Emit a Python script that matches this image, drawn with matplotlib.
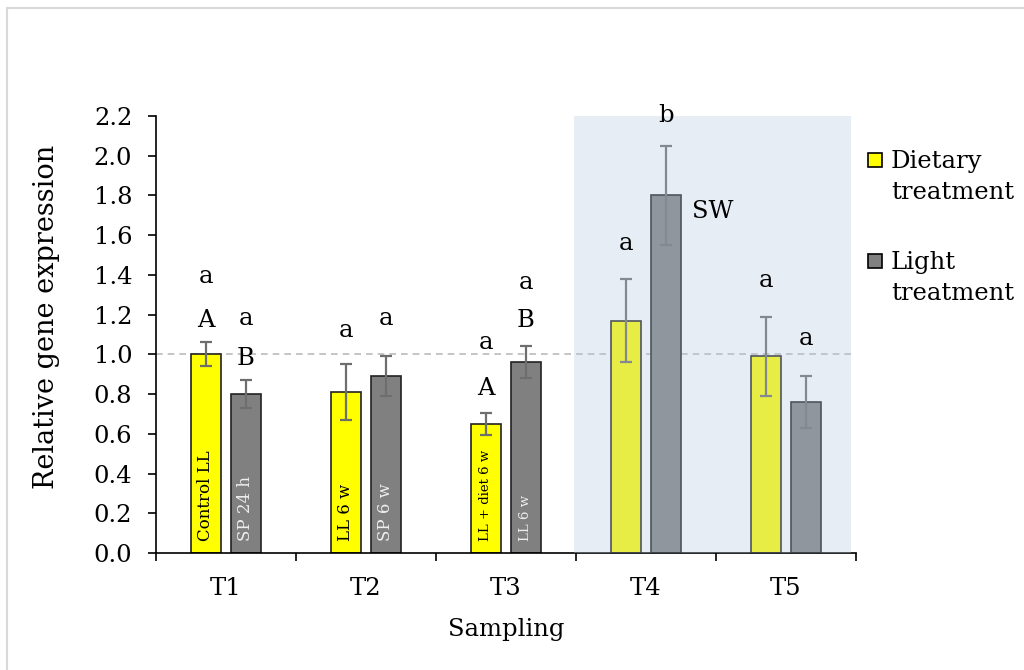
import matplotlib
matplotlib.use("Agg")
import matplotlib.pyplot as plt
import matplotlib.ticker as mticker
from matplotlib.patches import Rectangle
from matplotlib.lines import Line2D
import numpy as np

# ── data ────────────────────────────────────────────────────────────────
samplings = ["T1", "T2", "T3", "T4", "T5"]
diet_mean = [1.00, 0.81, 0.65, 1.17, 0.99]
diet_err = [0.06, 0.14, 0.055, 0.21, 0.20]
light_mean = [0.80, 0.89, 0.96, 1.80, 0.76]
light_err = [0.07, 0.10, 0.08, 0.25, 0.13]

diet_inside = ["Control LL", "LL 6 w", "LL + diet 6 w", "", ""]
light_inside = ["SP 24 h", "SP 6 w", "LL 6 w", "", ""]
inside_size = [12, 12, 9.5, 12, 12]

# significance letters: (group index, text, y)
letters_diet = [(0, "a", 1.39), (0, "A", 1.17), (1, "a", 1.12),
                (2, "a", 1.06), (2, "A", 0.83), (3, "a", 1.56), (4, "a", 1.37)]
letters_light = [(0, "a", 1.18), (0, "B", 0.98), (1, "a", 1.18),
                 (2, "a", 1.36), (2, "B", 1.17), (3, "b", 2.20), (4, "a", 1.08)]

seawater_span = (2.486, 4.464)   # T4-T5 sampled in seawater

YELLOW = "#FFFF00"
GREY = "#808080"
ERR = "#6E6E6E"
FONT = "DejaVu Serif"
FS = 17.5

plt.rcParams["font.family"] = FONT

fig = plt.figure(figsize=(10.24, 6.70), dpi=100)
ax = fig.add_axes([0.1523, 0.1746, 0.6836, 0.6523])

x = np.arange(len(samplings))
off, w = 0.143, 0.22
ax.bar(x - off, diet_mean, w, color=YELLOW, edgecolor="#222222", linewidth=1.2, zorder=2)
ax.bar(x + off, light_mean, w, color=GREY, edgecolor="#222222", linewidth=1.2, zorder=2)
ax.errorbar(x - off, diet_mean, yerr=diet_err, fmt="none", ecolor=ERR,
            elinewidth=1.6, capsize=4, capthick=1.6, zorder=2.2)
ax.errorbar(x + off, light_mean, yerr=light_err, fmt="none", ecolor=ERR,
            elinewidth=1.6, capsize=4, capthick=1.6, zorder=2.2)

# reference level
ax.axhline(1.0, color="#BBBBBB", linestyle=(0, (4, 3)), linewidth=1.2, zorder=1)

# seawater phase shading drawn over the bars
ax.axvspan(*seawater_span, ymin=0, ymax=1, color=(180 / 255, 200 / 255, 225 / 255),
           alpha=0.31, linewidth=0, zorder=3)

# labels inside bars
for i in range(len(samplings)):
    if diet_inside[i]:
        ax.text(x[i] - off, 0.06, diet_inside[i], rotation=90, ha="center",
                va="bottom", fontsize=inside_size[i], color="black", zorder=4)
    if light_inside[i]:
        ax.text(x[i] + off, 0.06, light_inside[i], rotation=90, ha="center",
                va="bottom", fontsize=inside_size[i], color="#EEEEEE", zorder=4)

for i, s, yv in letters_diet:
    ax.text(x[i] - off, yv, s, ha="center", va="center", fontsize=FS, zorder=4)
for i, s, yv in letters_light:
    ax.text(x[i] + off, yv, s, ha="center", va="center", fontsize=FS, zorder=4)
ax.text(3 + 0.48, 1.72, "SW", ha="center", va="center", fontsize=FS, zorder=4)

# axes
ax.set_xlim(-0.5, 4.5)
ax.set_ylim(0, 2.2)
ax.yaxis.set_major_locator(mticker.MultipleLocator(0.2))
ax.yaxis.set_major_formatter(mticker.FormatStrFormatter("%.1f"))
ax.set_xticks(np.arange(-0.5, 5, 1.0))
ax.set_xticklabels([])
ax.set_xticks(x, minor=True)
ax.set_xticklabels(samplings, minor=True)
ax.tick_params(axis="x", which="major", direction="out", length=6, width=1.2)
ax.tick_params(axis="x", which="minor", length=0, pad=17, labelsize=FS)
ax.tick_params(axis="y", direction="out", length=6, width=1.2, pad=11, labelsize=FS)
for side in ("top", "right"):
    ax.spines[side].set_visible(False)
for side in ("left", "bottom"):
    ax.spines[side].set_linewidth(1.2)
ax.set_ylabel("Relative gene expression", fontsize=19.5)
ax.yaxis.set_label_coords(-0.137, 0.54)
ax.set_xlabel("Sampling", fontsize=FS)
ax.xaxis.set_label_coords(0.5, -0.148)

# legend, drawn by hand so each square sits on the first text line
def legend_entry(y_top, color, lines):
    fig.patches.append(Rectangle((868 / 1024, 1 - (y_top + 14) / 670), 14 / 1024, 14 / 670,
                                 transform=fig.transFigure, facecolor=color,
                                 edgecolor="black", linewidth=1.2))
    fig.text(891 / 1024, 1 - (y_top - 3) / 670, lines, ha="left", va="top",
             fontsize=FS, linespacing=1.42)

legend_entry(153, YELLOW, "Dietary\ntreatment")
legend_entry(254, GREY, "Light\ntreatment")

# chart-area frame
fig.lines.append(Line2D([7 / 1024, 7 / 1024], [0, 1 - 8 / 670], transform=fig.transFigure,
                        color="#D9D9D9", linewidth=1.5))
fig.lines.append(Line2D([7 / 1024, 1], [1 - 8 / 670, 1 - 8 / 670], transform=fig.transFigure,
                        color="#D9D9D9", linewidth=1.5))

fig.savefig("out.png", dpi=100)
